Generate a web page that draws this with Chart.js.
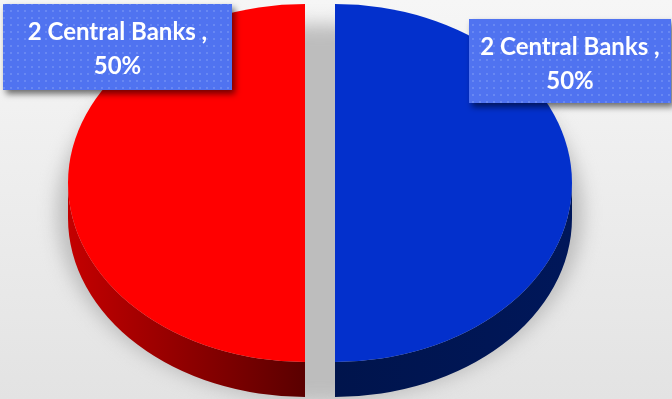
<!DOCTYPE html>
<html>
<head>
<meta charset="utf-8">
<script src="https://cdn.jsdelivr.net/npm/chart.js@4.4.1/dist/chart.umd.min.js"></script>
<style>
    html, body { margin: 0; padding: 0; }
    body {
        width: 672px;
        height: 399px;
        overflow: hidden;
        background: linear-gradient(180deg, #f6f6f6 0%, #e3e3e3 100%);
    }
</style>
</head>
<body>
<canvas class="banks" width="672" height="399"></canvas>
<script>
/*============================
  CENTRAL BANKS SHARE - 3D PIE
=============================*/

let
    categories = ['2 Central Banks', '2 Central Banks'],
    shares = [50, 50];

let
    faceColors = ['#ff0000', '#0330cc'],
    rimColors = [['#c40000', '#5a0000'], ['#00144c', '#00175a']];

// label boxes, placed relative to the centre of each slice
let labelBoxes = [
    { dx: -302, dy: -179, w: 229, h: 86 },
    { dx: 134, dy: -164, w: 202, h: 84 }
];

const TILT = 0.755;   // how much the pie face is squashed vertically
const DEPTH = 35;     // thickness of the rim
const EXPLODE = 15;   // how far each slice is pulled out

function squash(ctx, cy) {
    ctx.translate(0, cy);
    ctx.scale(1, TILT);
    ctx.translate(0, -cy);
}

function sliceShift(arc) {
    const mid = (arc.startAngle + arc.endAngle) / 2;
    return { dx: Math.cos(mid) * EXPLODE, dy: Math.sin(mid) * EXPLODE * TILT };
}

function drawRim(ctx, arc, colors) {
    const s = sliceShift(arc);
    const x = arc.x + s.dx, y = arc.y + s.dy;
    const r = arc.outerRadius;
    const grad = ctx.createLinearGradient(x - r, 0, x + r, 0);
    if (s.dx < 0) {
        grad.addColorStop(0, colors[0]);
        grad.addColorStop(0.5, colors[1]);
    } else {
        grad.addColorStop(0.5, colors[0]);
        grad.addColorStop(1, colors[1]);
    }
    ctx.fillStyle = grad;
    // only the front half of the rim can be seen
    for (let k = -1; k <= 2; k++) {
        const lo = Math.max(arc.startAngle, Math.PI * 2 * k);
        const hi = Math.min(arc.endAngle, Math.PI * 2 * k + Math.PI);
        if (hi <= lo) continue;
        ctx.beginPath();
        ctx.ellipse(x, y, r, r * TILT, 0, lo, hi);
        ctx.ellipse(x, y + DEPTH, r, r * TILT, 0, hi, lo, true);
        ctx.closePath();
        ctx.fill();
    }
}

function dotPattern(ctx) {
    const tile = document.createElement('canvas');
    tile.width = 7;
    tile.height = 7;
    const t = tile.getContext('2d');
    t.fillStyle = '#5073f0';
    t.fillRect(0, 0, 7, 7);
    t.fillStyle = '#6888f3';
    t.fillRect(3, 3, 2, 2);
    return ctx.createPattern(tile, 'repeat');
}

function drawLabels(chart) {
    const ctx = chart.ctx;
    const arcs = chart.getDatasetMeta(0).data;
    const total = shares.reduce((a, b) => a + b, 0);
    const pattern = dotPattern(ctx);

    arcs.forEach((arc, i) => {
        const s = sliceShift(arc);
        const box = labelBoxes[i];
        const left = arc.x + s.dx + box.dx;
        const top = arc.y + s.dy + box.dy;

        ctx.save();
        ctx.shadowColor = 'rgba(0, 0, 0, 0.55)';
        ctx.shadowOffsetX = 3;
        ctx.shadowOffsetY = 4;
        ctx.shadowBlur = 6;
        ctx.fillStyle = pattern;
        ctx.fillRect(left, top, box.w, box.h);
        ctx.restore();

        const pct = Math.round(shares[i] / total * 100);
        ctx.save();
        ctx.fillStyle = '#ffffff';
        ctx.font = 'bold 24px Lato';
        ctx.textAlign = 'center';
        ctx.textBaseline = 'alphabetic';
        ctx.fillText(categories[i] + ' ,', left + box.w / 2, top + 36);
        ctx.fillText(pct + '%', left + box.w / 2, top + 70);
        ctx.restore();
    });
}

const pie3d = {
    id: 'pie3d',
    beforeDatasetsDraw(chart) {
        const ctx = chart.ctx;
        const arcs = chart.getDatasetMeta(0).data;
        const cx = arcs[0].x, cy = arcs[0].y, r = arcs[0].outerRadius;

        // soft shadow the pie throws on the background
        ctx.save();
        ctx.filter = 'blur(9px)';
        ctx.fillStyle = '#bdbdbd';
        ctx.beginPath();
        ctx.ellipse(cx, cy + 30, r + 26, r * TILT + 10, 0, 0, Math.PI * 2);
        ctx.fill();
        ctx.restore();

        arcs.forEach((arc, i) => drawRim(ctx, arc, rimColors[i]));

        // top faces: the arc elements themselves, squashed into an ellipse
        arcs.forEach((arc) => {
            const s = sliceShift(arc);
            ctx.save();
            ctx.translate(s.dx, s.dy);
            squash(ctx, cy);
            arc.draw(ctx);
            ctx.restore();
        });

        drawLabels(chart);
        return false;
    }
};

function displayBanksChart() {
    let banksCanvas = document.querySelector('.banks').getContext('2d');
    let banksPieChart;
    banksPieChart = new Chart(banksCanvas, {
        type: 'pie',
        data: {
            labels: categories,
            datasets: [{
                label: 'Central Banks',
                data: shares,
                backgroundColor: faceColors,
                borderWidth: 0
            }]
        },
        options: {
            responsive: false,
            animation: false,
            rotation: 180,
            radius: 237,
            layout: {
                padding: { right: 32, bottom: 33 }
            },
            plugins: {
                legend: { display: false },
                tooltip: { enabled: false }
            }
        },
        plugins: [pie3d]
    });
}
displayBanksChart();
</script>
</body>
</html>
